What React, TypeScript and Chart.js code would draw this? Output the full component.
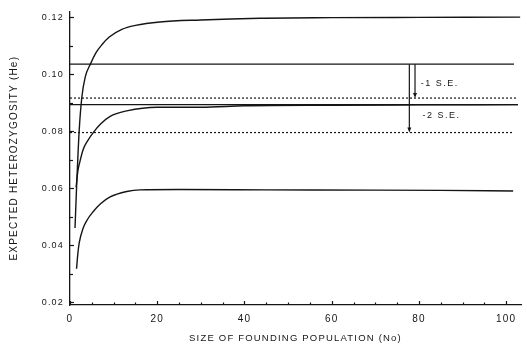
import React, { useEffect, useRef } from "react";
import { Chart, registerables } from "chart.js";

Chart.register(...registerables);

// Curves (size of founding population N0, expected heterozygosity He)
const upperCurveN = [1.15, 1.5, 2.1, 2.7, 3.5, 4.7, 6, 7.3, 9, 12, 15, 20.6, 30, 43.6, 60, 80, 103.2];
const upperCurveHe = [0.046, 0.06, 0.08, 0.0917, 0.099, 0.1036, 0.1076, 0.1103, 0.113, 0.1158, 0.1171, 0.1183, 0.119, 0.1196, 0.1198, 0.1199, 0.12];

const middleCurveN = [1.4, 1.8, 2.3, 3, 4, 5.6, 7, 9.2, 13, 20, 30, 40, 60, 80, 102.7];
const middleCurveHe = [0.0603, 0.066, 0.0695, 0.0735, 0.0765, 0.08, 0.0825, 0.0852, 0.0871, 0.0884, 0.0884, 0.0889, 0.0891, 0.0892, 0.0893];

const lowerCurveN = [1.5, 1.8, 2.1, 3, 4, 5.3, 7, 9.2, 13, 16, 25, 45, 70, 85, 101.6];
const lowerCurveHe = [0.0317, 0.037, 0.0407, 0.0459, 0.049, 0.0517, 0.0545, 0.0569, 0.0588, 0.0594, 0.0595, 0.0594, 0.0593, 0.0592, 0.059];

// Horizontal reference levels
const refSolidUpper = 0.1035;
const refDottedUpper = 0.0916;
const refSolidLower = 0.0893;
const refDottedLower = 0.0795;
const refStartN = 0;
const refEndSolidUpper = 101.8;
const refEndDottedUpper = 102.7;
const refEndSolidLower = 102.7;
const refEndDottedLower = 101.8;

// Annotation arrows (-1 S.E., -2 S.E.)
const arrowLabels = ["-1 S.E.", "-2 S.E."];
const arrowN = [79.1, 77.8];
const arrowFrom = [0.1035, 0.1035];
const arrowTo = [0.0916, 0.0795];
const arrowLabelN = [80.4, 80.8];
const arrowLabelHe = [0.0967, 0.0856];

// Axes
const xLabelValues = [0, 20, 40, 60, 80, 100];
const xMinorTicks = [0, 5, 10, 15, 20, 25, 30, 35, 40, 45, 50, 55, 60, 65, 70, 75, 80, 85, 90, 95, 100];
const yLabelValues = [0.02, 0.04, 0.06, 0.08, 0.1, 0.12];
const yMinorTicks = [0.02, 0.03, 0.04, 0.05, 0.06, 0.07, 0.08, 0.09, 0.1, 0.11, 0.12];
const xTitle = "SIZE OF FOUNDING POPULATION (No)";
const yTitle = "EXPECTED HETEROZYGOSITY (He)";

const INK = "#151515";
const FONT = '"Liberation Sans", Arial, Helvetica, sans-serif';

function pts(xs: number[], ys: number[]) {
  return xs.map((x, i) => ({ x, y: ys[i] }));
}

const spacingPlugin = {
  id: "spacing",
  beforeDraw(chart: any) {
    (chart.ctx as any).letterSpacing = "1.2px";
  },
};

const decorPlugin = {
  id: "decor",
  afterDraw(chart: any) {
    const ctx = chart.ctx as CanvasRenderingContext2D;
    const xs = chart.scales.x;
    const ys = chart.scales.y;
    const left = chart.chartArea.left;
    const bottom = chart.chartArea.bottom;
    ctx.save();
    ctx.strokeStyle = INK;
    ctx.fillStyle = INK;
    ctx.lineWidth = 1.2;
    // inward ticks
    yMinorTicks.forEach((v) => {
      const py = Math.round(ys.getPixelForValue(v)) + 0.5;
      const major = yLabelValues.some((m) => Math.abs(m - v) < 1e-9);
      ctx.beginPath();
      ctx.moveTo(left, py);
      ctx.lineTo(left + (major ? 4 : 3), py);
      ctx.stroke();
    });
    xMinorTicks.forEach((v) => {
      const px = Math.round(xs.getPixelForValue(v)) + 0.5;
      const major = xLabelValues.includes(v);
      ctx.beginPath();
      ctx.moveTo(px, bottom);
      ctx.lineTo(px, bottom - (major ? 4 : 2.5));
      ctx.stroke();
    });
    // arrows
    ctx.lineWidth = 1.2;
    arrowN.forEach((n, i) => {
      const px = xs.getPixelForValue(n);
      const y1 = ys.getPixelForValue(arrowFrom[i]);
      const y2 = ys.getPixelForValue(arrowTo[i]);
      ctx.beginPath();
      ctx.moveTo(px, y1);
      ctx.lineTo(px, y2 - 3);
      ctx.stroke();
      ctx.beginPath();
      ctx.moveTo(px, y2);
      ctx.lineTo(px - 2, y2 - 5);
      ctx.lineTo(px + 2, y2 - 5);
      ctx.closePath();
      ctx.fill();
    });
    // labels
    (ctx as any).letterSpacing = "1.5px";
    ctx.font = `9px ${FONT}`;
    ctx.textAlign = "left";
    ctx.textBaseline = "middle";
    arrowLabels.forEach((t, i) => {
      ctx.fillText(t, xs.getPixelForValue(arrowLabelN[i]), ys.getPixelForValue(arrowLabelHe[i]));
    });
    ctx.restore();
  },
};

export default function App() {
  const ref = useRef<HTMLCanvasElement | null>(null);
  useEffect(() => {
    if (!ref.current) return;
    Chart.defaults.font.family = FONT;
    Chart.defaults.color = INK;
    const lineBase = { borderColor: INK, pointRadius: 0, fill: false };
    const chart = new Chart(ref.current, {
      type: "line",
      data: {
        datasets: [
          { ...lineBase, label: "upper", data: pts(upperCurveN, upperCurveHe), borderWidth: 1.4, cubicInterpolationMode: "monotone" },
          { ...lineBase, label: "middle", data: pts(middleCurveN, middleCurveHe), borderWidth: 1.4, cubicInterpolationMode: "monotone" },
          { ...lineBase, label: "lower", data: pts(lowerCurveN, lowerCurveHe), borderWidth: 1.4, cubicInterpolationMode: "monotone" },
          { ...lineBase, label: "ref1", data: pts([refStartN, refEndSolidUpper], [refSolidUpper, refSolidUpper]), borderWidth: 1.3 },
          { ...lineBase, label: "ref2", data: pts([refStartN, refEndDottedUpper], [refDottedUpper, refDottedUpper]), borderWidth: 1.2, borderDash: [2, 2] },
          { ...lineBase, label: "ref3", data: pts([refStartN, refEndSolidLower], [refSolidLower, refSolidLower]), borderWidth: 1.3 },
          { ...lineBase, label: "ref4", data: pts([refStartN, refEndDottedLower], [refDottedLower, refDottedLower]), borderWidth: 1.2, borderDash: [2, 2] },
        ] as any,
      },
      options: {
        responsive: false,
        animation: false,
        layout: { padding: { top: 6, right: 6, left: 0, bottom: 0 } },
        plugins: { legend: { display: false }, tooltip: { enabled: false } },
        scales: {
          x: {
            type: "linear",
            min: 0,
            max: 103.4,
            afterBuildTicks: (s: any) => {
              s.ticks = xLabelValues.map((v) => ({ value: v }));
            },
            afterFit: (s: any) => {
              s.height = 48;
            },
            grid: { display: false, drawTicks: false },
            border: { display: true, color: INK, width: 1.3 },
            ticks: { padding: 8, font: { size: 10 }, color: INK, maxRotation: 0 },
            title: { display: true, text: xTitle, font: { size: 9.5 }, color: INK, padding: { top: 0, bottom: 9 } },
          },
          y: {
            type: "linear",
            min: 0.019,
            max: 0.122,
            afterBuildTicks: (s: any) => {
              s.ticks = yLabelValues.map((v) => ({ value: v }));
            },
            afterFit: (s: any) => {
              s.width = 70;
            },
            grid: { display: false, drawTicks: false },
            border: { display: true, color: INK, width: 1.3 },
            ticks: { padding: 6, font: { size: 9 }, color: INK, callback: (v: any) => Number(v).toFixed(2) },
            title: { display: true, text: yTitle, font: { size: 10 }, color: INK, padding: { top: 8, bottom: 0 } },
          },
        },
      } as any,
      plugins: [spacingPlugin, decorPlugin],
    });
    return () => chart.destroy();
  }, []);
  return (
    <div style={{ position: "fixed", left: 0, top: 0, width: 527, height: 353, background: "#fff" }}>
      <canvas ref={ref} width={527} height={353} />
    </div>
  );
}
